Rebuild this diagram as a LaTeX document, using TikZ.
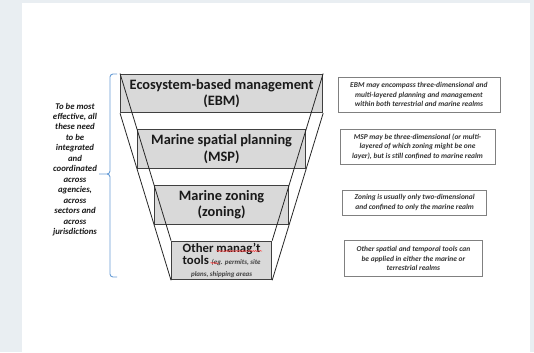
\documentclass[tikz,border=0pt]{standalone}
\usepackage{fontspec}
\setmainfont{Carlito}
\usetikzlibrary{positioning, decorations.pathmorphing}

\definecolor{panelgray}{RGB}{233,238,242}
\definecolor{tierfill}{RGB}{217,217,217}
\definecolor{tieredge}{RGB}{64,64,64}
\definecolor{notegray}{RGB}{128,128,128}
\definecolor{bracketblue}{RGB}{105,158,214}
\newcommand{\tightskip}{\lineskiplimit=-6pt\relax}

\begin{document}
\begin{tikzpicture}[x=1bp, y=-1bp,
    tier/.style={draw=tieredge, line width=1.1bp, fill=tierfill, minimum height=38.6bp, inner sep=0pt,
                 align=center, text=black!90, font=\fontsize{14.4}{16.6}\selectfont\bfseries},
    note/.style={draw=notegray, line width=0.8bp, inner sep=0pt, align=center, text=black!80,
                 font=\fontsize{7.5}{9.5}\selectfont\bfseries\itshape},
    funnel/.style={draw=black!85, line width=0.8bp},
    squiggle/.style={draw=red!75, line width=0.5bp, decorate, decoration={snake, amplitude=0.6bp, segment length=2.4bp}}]
    \fill [panelgray] (0,0) rectangle (534,352);
    \fill [white] (22,3) rectangle (530,352);
    % funnel
    \node [tier, minimum width=202bp] (ebm) at (221.6,93.4) {Ecosystem-based management\\(EBM)};
    \node [tier, minimum width=168bp, below=16bp of ebm] (msp) {Marine spatial planning\\(MSP)};
    \node [tier, minimum width=134bp, below=16bp of msp] (zoning) {Marine zoning\\(zoning)};
    \node [tier, minimum width=100bp, below=16bp of zoning,
           font=\fontsize{12.8}{12}\selectfont\bfseries\tightskip] (other)
        {Other manag't\\tools {\fontsize{7}{8}\selectfont\itshape\color{black!75}(eg. permits, site}\\[-0.5bp]
         {\fontsize{7}{8}\selectfont\itshape\color{black!75}plans, shipping areas}};
    \foreach \c in {north west, south west, north east, south east}
        \draw [funnel] (ebm.\c) -- (other.\c);
    \draw [squiggle] (216.5,251) -- (262,251);
    \draw [squiggle] (210.5,263) -- (219,263);
    % notes
    \node [note, minimum width=162bp, minimum height=35bp] (ebmnote) at (418.9,94.8)
        {EBM may encompass three-dimensional and\\multi-layered planning and management\\within both terrestrial and marine realms};
    \node [note, minimum width=155bp, minimum height=34.7bp] (mspnote) at (417.5,146.7)
        {MSP may be three-dimensional (or multi-\\layered of which zoning might be one\\layer), but is still confined to marine realm};
    \node [note, minimum width=144bp, minimum height=25bp] (zoningnote) at (414.7,202.5)
        {Zoning is usually only two-dimensional\\and confined to only the marine realm};
    \node [note, minimum width=138.7bp, minimum height=36bp] (othernote) at (413.4,258.7)
        {Other spatial and temporal tools can\\be applied in either the marine or\\terrestrial realms};
    % bracket and side text
    \draw [bracketblue, line width=0.9bp, rounded corners=3bp]
        (117,74) -| (110,174) -- (99,174) (99,174) -- (110,174) |- (117,277);
    \node [align=center, text=black!90, font=\fontsize{8.8}{10.5}\selectfont\bfseries\itshape] (effective) at (75,169.5)
        {To be most\\effective, all\\these need\\to be\\integrated\\and\\coordinated\\across\\agencies,\\across\\sectors and\\across\\jurisdictions};
\end{tikzpicture}
\end{document}
